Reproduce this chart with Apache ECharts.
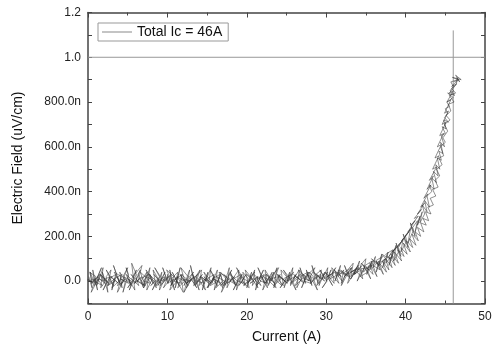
<!DOCTYPE html>
<html>
<head>
<meta charset="utf-8">
<script src="https://cdn.jsdelivr.net/npm/echarts@6/dist/echarts.min.js"></script>
<style>html,body{margin:0;padding:0;background:#fff}#c{width:494px;height:347px}</style>
</head>
<body>
<div id="c"></div>
<script>
// [Current (A), Electric field (uV/cm)]
// up-sweep 1
const sweepLow = [[0.1,0.02],[0.5,-0.03],[0.3,0.04],[0.8,-0.01],[0.6,0.05],[1.2,-0.04],[0.9,0.01],[1.5,0.03],[1.1,-0.02],[1.9,0.06],
[1.6,-0.03],[2.2,0.00],[1.8,0.04],[2.5,-0.05],[2.3,0.02],[2.9,0.05],[2.5,-0.02],[3.3,0.01],[3.0,-0.04],[3.6,0.03],
[3.2,0.07],[4.0,-0.01],[3.7,0.02],[4.3,-0.03],[4.0,0.04],[4.7,0.00],[4.4,-0.05],[5.1,0.03],[4.8,0.06],[5.4,-0.02],
[5.1,0.01],[5.9,-0.04],[5.5,0.08],[6.2,0.02],[5.9,-0.01],[6.6,0.05],[6.3,0.03],[7.0,-0.03],[6.7,0.00],[7.4,0.04],
[7.0,-0.02],[7.8,0.06],[7.4,-0.04],[8.1,0.01],[7.8,0.03],[8.6,-0.03],[8.2,0.05],[9.0,0.00],[8.6,-0.02],[9.3,0.04],
[9.0,-0.04],[9.8,0.02],[9.4,0.06],[10.1,-0.01]];
const sweepMid = [[10.0,0.03],[10.6,-0.02],[10.3,0.05],[10.9,-0.04],[10.5,0.01],[11.3,0.04],[11.0,-0.03],[11.6,0.06],[11.2,0.00],[12.0,-0.05],
[11.7,0.03],[12.4,0.01],[12.1,-0.02],[12.8,0.05],[12.4,-0.03],[13.2,0.02],[12.9,0.07],[13.5,-0.01],[13.2,0.03],[14.0,-0.04],
[13.6,0.02],[14.3,0.05],[14.0,-0.02],[14.7,0.01],[14.4,-0.04],[15.1,0.04],[14.8,0.00],[15.5,0.06],[15.1,-0.03],[15.9,0.02],
[15.6,-0.01],[16.3,0.05],[15.9,-0.04],[16.7,0.03],[16.4,0.00],[17.0,-0.03],[16.7,0.04],[17.4,0.01],[17.1,-0.02],[17.8,0.06],
[17.5,-0.03],[18.2,0.02],[17.9,0.04],[18.6,-0.02],[18.2,0.01],[19.0,0.05],[18.7,-0.04],[19.4,0.03],[19.1,0.00],[19.8,-0.02],
[19.5,0.04],[20.2,0.01]];
const sweepHigh = [[20.0,-0.03],[20.6,0.04],[20.3,0.00],[21.0,0.05],[20.7,-0.02],[21.4,0.02],[21.1,-0.04],[21.8,0.03],[21.4,0.06],[22.2,-0.01],
[21.9,0.02],[22.6,-0.03],[22.3,0.05],[23.0,0.01],[22.7,-0.02],[23.4,0.04],[23.1,0.00],[23.8,0.06],[23.4,-0.03],[24.2,0.03],
[23.9,0.01],[24.6,-0.02],[24.3,0.05],[25.0,0.02],[24.7,-0.03],[25.4,0.04],[25.1,0.00],[25.8,0.06],[25.5,-0.02],[26.2,0.03],
[25.9,0.01],[26.6,0.05],[26.3,-0.03],[27.0,0.02],[26.7,0.06],[27.4,-0.01],[27.1,0.03],[27.8,0.00],[27.5,0.05],[28.2,-0.02],
[27.9,0.04],[28.6,0.01],[28.2,0.07],[29.0,-0.01],[28.7,0.03],[29.4,0.05],[29.1,-0.02],[29.8,0.04],[29.5,0.01],[30.2,0.06]];
const sweepOnset = [[30.0,0.00],[30.6,0.05],[30.3,0.02],[31.0,-0.01],[30.7,0.06],[31.4,0.03],[31.1,0.00],[31.8,0.07],[31.5,0.02],[32.2,0.05],
[31.9,-0.01],[32.6,0.04],[32.3,0.07],[33.0,0.01],[32.7,0.05],[33.4,0.08],[33.1,0.02],[33.8,0.06],[33.5,0.03],[34.2,0.09],
[33.9,0.04],[34.6,0.01],[34.3,0.07],[35.0,0.10],[34.7,0.04],[35.4,0.07],[35.1,0.03],[35.8,0.09],[35.5,0.05],[36.2,0.11],
[35.9,0.06],[36.6,0.09],[36.3,0.04],[37.0,0.12],[36.7,0.07],[37.4,0.10],[37.1,0.06],[37.8,0.13],[37.5,0.08],[38.2,0.11]];
const sweepRise = [[37.9,0.07],[38.5,0.14],[38.2,0.10],[38.8,0.16],[38.5,0.09],[39.1,0.13],[38.8,0.17],[39.4,0.11],[39.1,0.15],[39.7,0.19],
[39.4,0.13],[40.0,0.17],[39.7,0.21],[40.3,0.15],[40.0,0.20],[40.6,0.23],[40.3,0.17],[40.9,0.22],[40.6,0.26],[41.2,0.20],
[40.9,0.24],[41.5,0.27],[41.2,0.22],[41.8,0.29],[41.5,0.25],[42.1,0.31],[41.8,0.26],[42.4,0.30],[42.1,0.34],[42.7,0.31],
[42.4,0.36],[43.0,0.33],[42.7,0.38]];
const sweepTransition = [[43.3,0.40],[43.0,0.43],[43.6,0.41],[43.3,0.46],[43.9,0.44],[43.5,0.49],[44.1,0.47],[43.8,0.52],[44.3,0.50],[44.0,0.55],
[44.5,0.54],[44.2,0.58],[44.7,0.57],[44.4,0.62],[44.9,0.60],[44.5,0.65],[45.0,0.66],[44.6,0.69],[45.1,0.68],[44.8,0.72],
[45.4,0.71],[44.9,0.73],[45.3,0.75],[45.0,0.77],[45.5,0.78],[45.2,0.80],[46.0,0.82],[45.3,0.84],[46.2,0.83],[45.6,0.85],
[46.0,0.87],[45.7,0.89],[46.6,0.90],[45.9,0.91],[47.0,0.90],[46.3,0.92],[46.8,0.89],[46.5,0.91]];
// down-sweep
const returnTop = [[46.4,0.88],[45.8,0.86],[46.3,0.84],[45.5,0.83],[46.1,0.80],[45.4,0.79],[45.7,0.76],[45.1,0.74],[45.6,0.72],[44.9,0.70],
[45.3,0.67],[44.7,0.64],[45.0,0.62],[44.4,0.60],[44.8,0.56],[44.2,0.55],[44.6,0.52],[43.9,0.50],[44.3,0.47],[43.7,0.45],
[44.1,0.42],[43.4,0.41],[43.8,0.38],[43.1,0.37],[43.5,0.34],[42.8,0.33],[43.2,0.30],[42.5,0.31],[42.9,0.27],[42.2,0.28],
[42.6,0.25],[41.9,0.26],[42.3,0.22],[41.5,0.24],[41.9,0.20],[41.2,0.22],[41.6,0.18],[40.8,0.21],[41.3,0.16],[40.5,0.19],
[40.9,0.15],[40.1,0.18],[40.6,0.13],[39.7,0.17],[40.2,0.12],[39.4,0.15],[39.8,0.11],[39.0,0.14],[39.5,0.09],[38.6,0.13],
[39.1,0.08],[38.2,0.12],[38.7,0.07],[37.9,0.11],[38.3,0.06],[37.5,0.10],[37.9,0.05],[37.1,0.09],[37.6,0.04],[36.7,0.08],
[37.2,0.03],[36.3,0.09],[36.8,0.05],[35.9,0.07],[36.4,0.02],[35.5,0.08],[35.9,0.03],[35.1,0.06],[35.6,0.01],[34.7,0.07],
[35.2,0.04],[34.3,0.02],[34.8,0.06],[33.9,0.00],[34.4,0.05],[33.5,0.03],[34.0,0.07],[33.1,0.01],[33.6,0.04],[32.7,-0.01],
[33.2,0.06],[32.3,0.02],[32.8,0.04],[31.9,-0.02],[32.4,0.03],[31.5,0.05],[32.0,0.00],[31.1,0.04],[31.6,-0.01],[30.7,0.03],
[31.2,0.06],[30.3,0.01],[30.8,-0.02],[29.9,0.04],[30.4,0.02]];
const returnHigh = [[29.5,-0.03],[30.1,0.00],[29.2,0.05],[29.7,0.02],[28.8,-0.02],[29.3,0.03],[28.4,0.01],[28.9,-0.04],[28.0,0.02],[28.6,0.06],
[27.7,0.03],[28.1,-0.01],[27.2,0.00],[27.8,0.04],[26.9,-0.03],[27.4,0.02],[26.5,0.05],[27.0,0.01],[26.1,-0.02],[26.7,0.03],
[25.8,0.00],[26.2,-0.04],[25.3,0.02],[25.9,0.04],[25.0,-0.01],[25.5,0.01],[24.6,0.05],[25.1,0.02],[24.2,-0.03],[24.8,0.00],
[23.9,0.03],[24.4,-0.02],[23.5,0.01],[24.0,0.06],[23.1,0.02],[23.7,-0.03],[22.8,0.00],[23.2,0.04],[22.3,-0.01],[22.9,0.02],
[22.0,-0.04],[22.5,0.03],[21.6,0.01],[22.1,0.05],[21.2,-0.02],[21.8,0.00],[20.9,0.03],[21.4,-0.03],[20.5,0.02],[21.0,0.04],
[20.1,-0.01],[20.7,0.01]];
const returnMid = [[19.8,0.05],[20.3,-0.03],[19.4,0.00],[19.9,0.03],[19.0,-0.02],[19.6,0.01],[18.7,0.06],[19.2,0.02],[18.3,-0.04],[18.8,0.00],
[17.9,0.03],[18.5,-0.01],[17.6,0.02],[18.1,0.05],[17.2,-0.02],[17.7,0.01],[16.8,-0.05],[17.4,0.02],[16.5,0.04],[17.0,0.00],
[16.1,-0.03],[16.6,0.03],[15.7,0.01],[16.3,-0.02],[15.4,0.05],[15.9,0.02],[15.0,-0.03],[15.5,0.00],[14.6,0.04],[15.2,-0.01],
[14.3,0.02],[14.8,-0.04],[13.9,0.01],[14.4,0.03],[13.5,-0.02],[14.1,0.05],[13.2,0.00],[13.7,-0.03],[12.8,0.02],[13.3,0.04],
[12.4,-0.01],[13.0,0.01],[12.1,-0.05],[12.6,0.02],[11.7,0.06],[12.2,0.00],[11.3,-0.03],[11.9,0.03],[11.0,0.01],[11.5,-0.02],
[10.6,0.04],[11.2,0.00],[10.3,-0.04],[10.8,0.02],[9.9,0.05],[10.4,0.01]];
const returnLow = [[9.5,-0.03],[10.1,0.02],[9.2,0.00],[9.7,0.04],[8.8,-0.02],[9.3,0.01],[8.4,0.06],[9.0,0.02],[8.1,-0.04],[8.6,0.00],
[7.7,0.03],[8.2,-0.01],[7.3,0.05],[7.9,0.02],[7.0,-0.03],[7.5,0.01],[6.6,0.04],[7.2,-0.02],[6.3,0.00],[6.8,0.07],
[5.9,0.03],[6.4,-0.02],[5.5,0.01],[6.1,0.05],[5.2,-0.04],[5.7,0.00],[4.8,0.03],[5.3,-0.01],[4.4,0.02],[5.0,0.06],
[4.1,-0.02],[4.6,0.01],[3.7,-0.05],[4.2,0.02],[3.3,0.04],[3.9,0.00],[3.0,-0.03],[3.5,0.03],[2.6,0.01],[3.2,-0.02],
[2.3,0.05],[2.8,0.02],[1.9,-0.04],[2.4,0.00],[1.5,0.03],[2.1,-0.01],[1.2,0.02],[1.7,0.06],[0.8,-0.02],[1.3,0.01],
[0.4,-0.05],[1.0,0.02],[0.2,0.04],[0.6,-0.01],[0.0,0.01]];
// up-sweep 2
const pass2Low = [[0.0,0.00],[0.9,0.01],[0.4,-0.01],[1.3,0.02],[0.8,0.00],[1.8,-0.02],[1.2,0.01],[2.1,0.00],[1.6,0.03],[2.6,-0.01],
[2.0,0.01],[3.0,0.02],[2.5,-0.02],[3.4,0.00],[2.9,0.02],[3.8,-0.01],[3.3,0.01],[4.3,0.03],[3.7,-0.02],[4.6,0.00],
[4.1,0.01],[5.1,-0.01],[4.5,0.02],[5.5,0.00],[5.0,-0.03],[5.9,0.01],[5.4,0.03],[6.3,0.00],[5.8,-0.01],[6.8,0.02],
[6.2,0.00],[7.1,-0.02],[6.6,0.01],[7.6,0.03],[7.0,0.00],[7.9,-0.01],[7.4,0.02],[8.4,0.00],[7.9,-0.02],[8.8,0.01],
[8.3,0.03],[9.2,-0.01],[8.7,0.00],[9.7,0.02],[9.1,-0.02],[10.0,0.01],[9.5,0.00],[10.5,0.03],[10.0,-0.01],[10.9,0.01],
[10.4,-0.02],[11.3,0.02],[10.8,0.00],[11.8,-0.01],[11.2,0.02],[12.1,0.00],[11.6,0.03],[12.6,-0.02],[12.0,0.01],[12.9,0.00],
[12.4,-0.01],[13.4,0.02],[12.9,0.00],[13.8,0.03],[13.3,-0.02],[14.2,0.01],[13.7,0.00],[14.7,-0.01],[14.1,0.02],[15.0,0.00]];
const pass2Mid = [[14.6,0.02],[15.5,-0.01],[15.0,0.01],[15.9,0.03],[15.4,-0.02],[16.4,0.00],[15.8,0.01],[16.7,-0.01],[16.2,0.02],[17.2,0.00],
[16.7,-0.02],[17.6,0.01],[17.1,0.03],[18.0,0.00],[17.5,-0.01],[18.5,0.02],[17.9,0.00],[18.8,-0.02],[18.3,0.01],[19.3,0.03],
[18.8,0.00],[19.7,-0.01],[19.2,0.02],[20.1,0.00],[19.6,-0.02],[20.6,0.01],[20.0,0.03],[20.9,0.00],[20.4,-0.01],[21.4,0.02],
[20.9,0.01],[21.8,-0.02],[21.3,0.01],[22.2,0.03],[21.7,0.00],[22.7,-0.01],[22.1,0.02],[23.0,0.00],[22.5,0.03],[23.5,-0.01],
[23.0,0.01],[23.9,0.02],[23.4,-0.02],[24.3,0.01],[23.8,0.03],[24.8,0.00],[24.2,0.02],[25.1,-0.01],[24.6,0.01],[25.6,0.03],
[25.1,0.00],[26.0,0.02],[25.5,-0.01],[26.4,0.01],[25.9,0.03],[26.9,0.00],[26.3,0.02],[27.2,-0.01],[26.7,0.02],[27.7,0.04],
[27.2,0.01],[28.1,0.00],[27.6,0.03],[28.5,0.01],[28.0,-0.01],[29.0,0.02],[28.4,0.04],[29.3,0.01],[28.8,0.03],[29.8,0.00],
[29.3,0.02],[30.2,0.04]];
const pass2Rise = [[29.7,0.01],[30.6,0.03],[30.1,0.02],[31.0,0.04],[30.5,0.01],[31.5,0.03],[31.0,0.05],[31.9,0.02],[31.4,0.04],[32.3,0.03],
[31.8,0.05],[32.8,0.02],[32.3,0.04],[33.2,0.06],[32.7,0.03],[33.6,0.05],[33.1,0.04],[34.1,0.06],[33.6,0.03],[34.5,0.07],
[34.0,0.05],[34.9,0.06],[34.4,0.08],[35.4,0.05],[34.9,0.07],[35.8,0.09],[35.3,0.06],[36.2,0.08],[35.7,0.10],[36.7,0.07],
[36.2,0.09],[37.1,0.11],[36.6,0.08],[37.5,0.10],[37.0,0.12],[38.0,0.10],[37.5,0.12],[38.4,0.14],[37.9,0.11],[38.8,0.15],
[38.3,0.13],[39.2,0.16],[38.8,0.15],[39.6,0.18],[39.1,0.16],[40.0,0.20],[39.5,0.18],[40.4,0.22],[39.9,0.20],[40.8,0.24],
[40.3,0.22],[41.2,0.27],[40.7,0.25],[41.6,0.29],[41.1,0.28],[42.0,0.32],[41.5,0.30],[42.4,0.35],[41.9,0.33],[42.8,0.39],
[42.3,0.37],[43.2,0.43],[42.7,0.41],[43.5,0.47],[43.0,0.45],[43.9,0.51],[43.4,0.50],[44.2,0.56],[43.7,0.55],[44.5,0.61],
[44.0,0.60],[44.8,0.66],[44.3,0.65],[45.1,0.71],[44.6,0.70],[45.4,0.76],[44.9,0.75],[45.7,0.81],[45.2,0.80],[46.0,0.85],
[45.5,0.84],[46.4,0.88],[45.8,0.87],[46.7,0.90],[46.1,0.89]];
const criticalCurrent = 46;
const criterionField = 1.0;
const icLineTop = 1.12;
const legendLabel = 'Total Ic = 46A';

const allPoints = [].concat(sweepLow, sweepMid, sweepHigh, sweepOnset, sweepRise, sweepTransition,
  returnTop, returnHigh, returnMid, returnLow, pass2Low, pass2Mid, pass2Rise);

const FONT = 'Liberation Sans, Arial, sans-serif';
const axisColor = '#444';
function yFmt(v) {
  const t = Math.round(v * 10);
  if (t % 2 !== 0) return '';
  if (t === 0) return '0.0';
  if (t >= 10) return (t / 10).toFixed(1);
  return (t * 100).toFixed(1) + 'n';
}
const xCommon = {
  type: 'value', min: 0, max: 50, interval: 10,
  axisLine: { show: true, onZero: false, lineStyle: { color: axisColor, width: 1.5 } },
  axisTick: { show: true, inside: true, length: 5, lineStyle: { color: axisColor, width: 1 } },
  minorTick: { show: true, splitNumber: 2, length: 3, lineStyle: { color: axisColor, width: 1 } },
  splitLine: { show: false }, minorSplitLine: { show: false }
};
const yCommon = {
  type: 'value', min: -0.1, max: 1.2, interval: 0.1,
  axisLine: { show: true, onZero: false, lineStyle: { color: axisColor, width: 1.5 } },
  axisTick: { show: true, inside: true, length: 4, lineStyle: { color: axisColor, width: 1 } },
  splitLine: { show: false }
};
const chart = echarts.init(document.getElementById('c'), null, { renderer: 'canvas' });
chart.setOption({
  animation: false,
  backgroundColor: '#fff',
  grid: { left: 88, right: 9, top: 12.5, bottom: 43.5, containLabel: false, outerBoundsMode: 'none' },
  legend: {
    data: [{ name: legendLabel, icon: 'rect' }],
    left: 98, top: 23,
    borderColor: '#999', borderWidth: 1, borderRadius: 0,
    padding: [1, 6, 1, 4],
    itemWidth: 30, itemHeight: 1, itemGap: 5,
    itemStyle: { color: '#888' },
    textStyle: { fontFamily: FONT, fontSize: 14, color: '#111', lineHeight: 16 }
  },
  xAxis: [
    Object.assign({}, xCommon, {
      position: 'bottom',
      axisLabel: { color: '#222', fontFamily: FONT, fontSize: 12, margin: 7 },
      name: 'Current (A)', nameLocation: 'middle', nameGap: 27,
      nameTextStyle: { color: '#111', fontFamily: FONT, fontSize: 14 }
    }),
    Object.assign({}, xCommon, { position: 'top', axisLabel: { show: false } })
  ],
  yAxis: [
    Object.assign({}, yCommon, {
      position: 'left',
      axisLabel: { color: '#222', fontFamily: FONT, fontSize: 12, margin: 7, formatter: yFmt },
      name: 'Electric Field (uV/cm)', nameLocation: 'middle', nameGap: 63,
      nameTextStyle: { color: '#111', fontFamily: FONT, fontSize: 14 }
    }),
    Object.assign({}, yCommon, { position: 'right', axisLabel: { show: false } })
  ],
  series: [
    {
      name: 'criterion', type: 'line', symbol: 'none', silent: true,
      data: [[0, criterionField], [50, criterionField]],
      lineStyle: { color: '#999', width: 1 }
    },
    {
      name: 'ic', type: 'line', symbol: 'none', silent: true,
      data: [[criticalCurrent, -0.1], [criticalCurrent, icLineTop]],
      lineStyle: { color: '#999', width: 1 }
    },
    {
      name: legendLabel, type: 'line', symbol: 'none', showSymbol: false, silent: true,
      data: allPoints,
      itemStyle: { color: '#888' },
      lineStyle: { color: '#333', width: 0.6, opacity: 0.9 }
    }
  ]
});
</script>
</body>
</html>
